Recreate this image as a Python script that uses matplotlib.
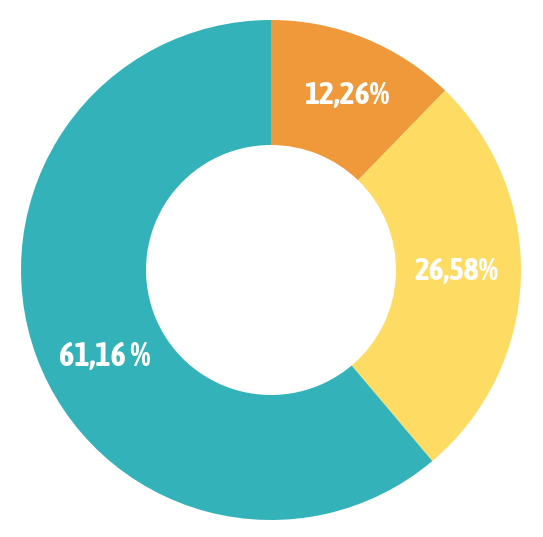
import numpy as np
import matplotlib
matplotlib.use("Agg")
import matplotlib.pyplot as plt
from matplotlib import font_manager as fm

labels = ["12,26%", "26,58%", "61,16 %"]
values = [12.26, 26.58, 61.16]
colors = ["#F0993A", "#FEDC63", "#33B2BA"]
label_widths = [85, 84, 91]  # px width of each label in the source image

# pick a narrow bold face if one is around
names = {f.name for f in fm.fontManager.ttflist}
family = "DejaVu Sans"
for name in ["Asap Condensed", "Archivo Narrow", "Liberation Sans Narrow", "Roboto Condensed"]:
    if name in names:
        family = name
        break

fig = plt.figure(figsize=(5.43, 5.37), dpi=100)
ax = fig.add_axes([0, 0, 1, 1])

wedges, _ = ax.pie(values, colors=colors, startangle=90, counterclock=False,
                   radius=1.0, wedgeprops=dict(width=0.5, linewidth=0))

ax.set_xlim(-271 / 250, 272 / 250)
ax.set_ylim(-267 / 250, 270 / 250)
ax.set_aspect("equal")
ax.axis("off")

renderer = fig.canvas.get_renderer()
# small nudges (degrees, radius) so labels sit where the source has them
offsets = [-1.5, 1.4, 7.5]
radii = [0.76, 0.744, 0.751]
for w, lab, off, r, width in zip(wedges, labels, offsets, radii, label_widths):
    ang = np.deg2rad((w.theta1 + w.theta2) / 2 + off)
    t = ax.text(r * np.cos(ang), r * np.sin(ang), lab, ha="center", va="center",
                color="white", fontsize=22, fontweight="bold", family=family)
    # scale the font so the label is as wide as in the source
    bb = t.get_window_extent(renderer)
    t.set_fontsize(22 * width / bb.width)

fig.savefig("out.png", dpi=100)
